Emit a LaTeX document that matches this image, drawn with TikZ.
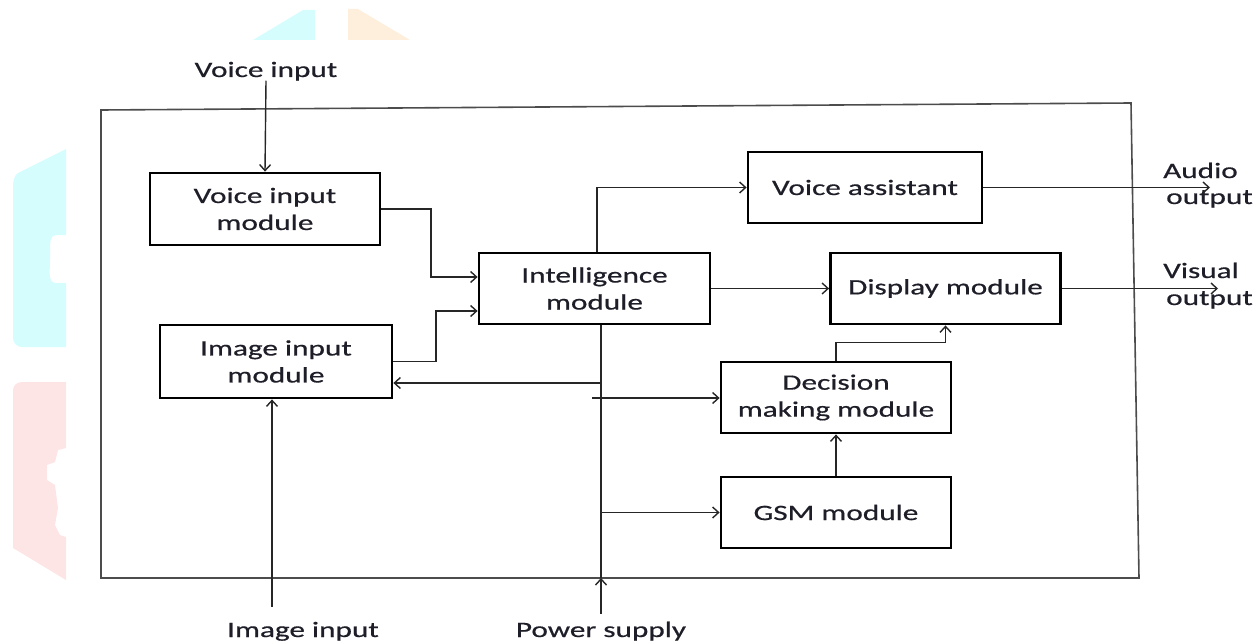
\documentclass[tikz,border=0pt]{standalone}
\usepackage{fontspec}
\setmainfont[FakeStretch=1.42,FakeBold=0.6]{Carlito}
\usetikzlibrary{arrows.meta,calc}
\definecolor{wmcyan}{HTML}{D5FDFD}
\definecolor{wmorange}{HTML}{FEEEDC}
\definecolor{wmpink}{HTML}{FDE5E5}
\definecolor{txt}{HTML}{1E1E28}
\begin{document}
\begin{tikzpicture}[x=1pt,y=-1pt,
  box/.style={draw=black, line width=2.8pt, minimum width=230pt, minimum height=71pt,
    inner sep=0pt, align=center, text=txt, font=\fontsize{22}{27}\selectfont},
  lbl/.style={inner sep=0pt, text=txt, font=\fontsize{22}{27}\selectfont},
  con/.style={draw=black!85, line width=1.4pt},
  arr/.style={con, -{Straight Barb[length=6pt,width=11pt,line width=1.4pt]}},
  frame/.style={draw=black!70, line width=1.6pt}]
\useasboundingbox (0,0) rectangle (1256,642);
% watermark shapes
\fill[wmcyan] (253,40) -- (303,10) -- (315,10) -- (315,40) -- cycle;
\fill[wmorange] (348,9) -- (358,9) -- (410,40) -- (348,40) -- cycle;
\fill[wmcyan] (66,149) -- (20,172) to[out=200,in=90] (13,190) -- (13,338)
  to[out=-90,in=180] (22,347) -- (66,347) -- (66,283) -- (56,283)
  to[out=180,in=-90] (50,262) -- (50,250) to[out=90,in=180] (56,235) -- (66,235) -- cycle;
\fill[wmpink] (22,382) -- (66,382) -- (66,448) -- (58,450) -- (55,462) -- (47,465)
  -- (47,480) -- (55,485) -- (58,508) -- (55,525) -- (60,535) -- (66,537)
  -- (66,580) -- (13,548) -- (13,390) to[out=90,in=180] cycle;
% outer frame
\draw[frame] (101,110) -- (1131,103) -- (1139,578) -- (101,578) -- cycle;
% nodes
\node[lbl, anchor=base] (vin) at (266,77) {Voice input};
\node[box, minimum height=72pt] (vim) at (265,209) {Voice input\\module};
\node[box, minimum width=232pt, minimum height=73pt] (iim) at (276,361.5) {Image input\\module};
\node[box, minimum width=231pt] (intel) at (594.5,288.5) {Intelligence\\module};
\node[box, minimum width=234pt] (va) at (865,187.5) {Voice assistant};
\node[box] (disp) at (945.5,288.5) {Display module};
\node[box] (dec) at (836,397.5) {Decision\\making module};
\node[box] (gsm) at (836,512.5) {GSM module};
\node[lbl, anchor=base] (imgin) at (303,637) {Image input};
\node[lbl, anchor=base] (ps) at (601,637) {Power supply};
\node[lbl, anchor=base west] (audio) at (1163,178) {Audio};
\node[lbl, anchor=base west] (audio2) at (1166,204) {output};
\node[lbl, anchor=base west] (visual) at (1163,278) {Visual};
\node[lbl, anchor=base west] (visual2) at (1166,305) {output};
% helper coordinates
\coordinate (j1) at (431,277);
\coordinate (j2) at (436,311);
\coordinate (b1) at (600,383);
\coordinate (pwb) at (601,578);
\coordinate (d0) at (592,398);
\coordinate (g0) at (602,512.5);
\coordinate (t1) at (597,187.5);
\coordinate (ao) at (1210,187.5);
\coordinate (vo) at (1218,288.5);
\coordinate (ii) at (272,607);
% connectors
\draw[arr] (vin.south) -- (vim.north);
\draw[arr] (vim.east) -| (j1) -- (j1 -| intel.west);
\draw[arr] (iim.east) -| (j2) -- (j2 -| intel.west);
\draw[arr] (b1) -- (b1 -| iim.east);
\draw[con] (pwb |- intel.south) -- (pwb);
\draw[arr, shorten <=8pt] (ps.north) -- (pwb);
\draw[arr] (d0) -- (d0 -| dec.west);
\draw[arr] (g0) -- (g0 -| gsm.west);
\draw[arr] (gsm.north) -- (dec.south);
\draw[arr] (dec.north) -- ++(0,-18) -| (disp.south);
\draw[arr] (intel.east) -- (disp.west);
\draw[arr] (t1 |- intel.north) -- (t1) -- (va.west);
\draw[arr] (va.east) -- (ao);
\draw[arr] (disp.east) -- (vo);
\draw[arr] (ii) -- (ii |- iim.south);
\end{tikzpicture}
\end{document}
